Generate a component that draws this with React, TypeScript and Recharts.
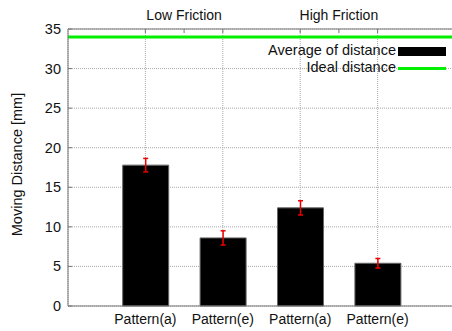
import React from 'react';
import {
  ComposedChart,
  Bar,
  ErrorBar,
  XAxis,
  YAxis,
  CartesianGrid,
  ReferenceLine,
  Legend,
} from 'recharts';

const categories = ['Pattern(a)', 'Pattern(e)', 'Pattern(a)', 'Pattern(e)'];
const positions = [1, 2, 3, 4];
const averages = [17.8, 8.6, 12.4, 5.4];
const errors = [0.85, 0.9, 0.9, 0.6];
const groupLabels = ['Low Friction', 'High Friction'];
const groupPositions = [1.5, 3.5];
const topTicks = [1, 1.5, 2, 3, 3.5, 4];
const yTicks = [0, 5, 10, 15, 20, 25, 30, 35];
const idealDistance = 34;
const legendLabels = ['Average of distance', 'Ideal distance'];

const data = positions.map((p, i) => ({
  x: p,
  label: categories[i],
  avg: averages[i],
  err: errors[i],
}));

const FONT = '"Liberation Sans", Arial, Helvetica, sans-serif';
const AXIS_COLOR = '#777';
const GREEN = '#00f000';

const BottomTick = (props: any) => {
  const { x, y, payload } = props;
  const idx = positions.indexOf(payload.value);
  return (
    <text x={x} y={y + 18} textAnchor="middle" fontSize={14} fontFamily={FONT} fill="#111">
      {idx >= 0 ? categories[idx] : ''}
    </text>
  );
};

const TopTick = (props: any) => {
  const { x, y, payload } = props;
  const gi = groupPositions.indexOf(payload.value);
  return (
    <g>
      <line x1={x} x2={x} y1={y} y2={y + 4} stroke={AXIS_COLOR} strokeWidth={1} />
      {gi >= 0 && (
        <text x={x} y={y - 9.5} textAnchor="middle" fontSize={14} fontFamily={FONT} fill="#111">
          {groupLabels[gi]}
        </text>
      )}
    </g>
  );
};

const LeftTick = (props: any) => {
  const { x, y, payload } = props;
  return (
    <g>
      <line x1={x} x2={x + 4} y1={y} y2={y} stroke={AXIS_COLOR} strokeWidth={1} />
      <text
        x={x - 7}
        y={y}
        dy={5}
        textAnchor="end"
        fontSize={14.5}
        fontFamily={FONT}
        fill="#111"
      >
        {payload.value}
      </text>
    </g>
  );
};

const YLabel = (props: any) => {
  const { viewBox } = props;
  const cy = viewBox.y + viewBox.height / 2 - 3;
  const cx = 17;
  return (
    <text
      x={cx}
      y={cy}
      transform={`rotate(-90 ${cx} ${cy})`}
      textAnchor="middle"
      dominantBaseline="central"
      fontSize={14.5}
      fontFamily={FONT}
      fill="#111"
    >
      Moving Distance [mm]
    </text>
  );
};

const LegendContent = () => (
  <div style={{ position: 'relative', width: 452, height: 0, fontFamily: FONT, fontSize: 14.5, color: '#111' }}>
    <div style={{ position: 'absolute', right: 56, top: 42, whiteSpace: 'nowrap', lineHeight: '17px' }}>
      {legendLabels[0]}
    </div>
    <div style={{ position: 'absolute', left: 398, top: 47, width: 48, height: 9, background: '#000' }} />
    <div style={{ position: 'absolute', right: 56, top: 59, whiteSpace: 'nowrap', lineHeight: '17px' }}>
      {legendLabels[1]}
    </div>
    <div style={{ position: 'absolute', left: 398, top: 66.5, width: 48, height: 3, background: GREEN }} />
  </div>
);

export default function App() {
  return (
    <div style={{ position: 'absolute', left: 0, top: 0, width: 452, height: 331, background: '#fff' }}>
      <ComposedChart
        width={452}
        height={331}
        data={data}
        margin={{ top: 0, right: -3, bottom: 0, left: 0 }}
      >
        <CartesianGrid stroke="#aaa" strokeDasharray="1 1" strokeWidth={1} />
        <XAxis
          xAxisId={0}
          dataKey="x"
          type="number"
          domain={[0, 5]}
          ticks={positions}
          height={25}
          tickLine={false}
          tickSize={0}
          tickMargin={0}
          axisLine={{ stroke: AXIS_COLOR, strokeWidth: 1 }}
          tick={<BottomTick />}
          interval={0}
        />
        <XAxis
          xAxisId="top"
          orientation="top"
          dataKey="x"
          type="number"
          domain={[0, 5]}
          ticks={topTicks}
          height={29}
          tickLine={false}
          tickSize={0}
          tickMargin={0}
          axisLine={{ stroke: AXIS_COLOR, strokeWidth: 1 }}
          tick={<TopTick />}
          interval={0}
        />
        <YAxis
          type="number"
          domain={[0, 35]}
          ticks={yTicks}
          width={68}
          tickLine={false}
          tickSize={0}
          tickMargin={0}
          axisLine={{ stroke: AXIS_COLOR, strokeWidth: 1 }}
          tick={<LeftTick />}
          interval={0}
          label={{ content: <YLabel /> }}
        />
        <Legend
          verticalAlign="middle"
          layout="horizontal"
          content={<LegendContent />}
          wrapperStyle={{ position: 'absolute', left: 0, top: 0, width: 452, height: 0 }}
        />
        <Bar dataKey="avg" xAxisId={0} fill="#000" stroke="#666" strokeWidth={1} barSize={46} isAnimationActive={false}>
          <ErrorBar dataKey="err" direction="y" width={2.5} stroke="#ee0000" strokeWidth={1.5} isAnimationActive={false} />
        </Bar>
        <ReferenceLine y={idealDistance} xAxisId={0} stroke={GREEN} strokeWidth={3} ifOverflow="extendDomain" />
      </ComposedChart>
    </div>
  );
}
